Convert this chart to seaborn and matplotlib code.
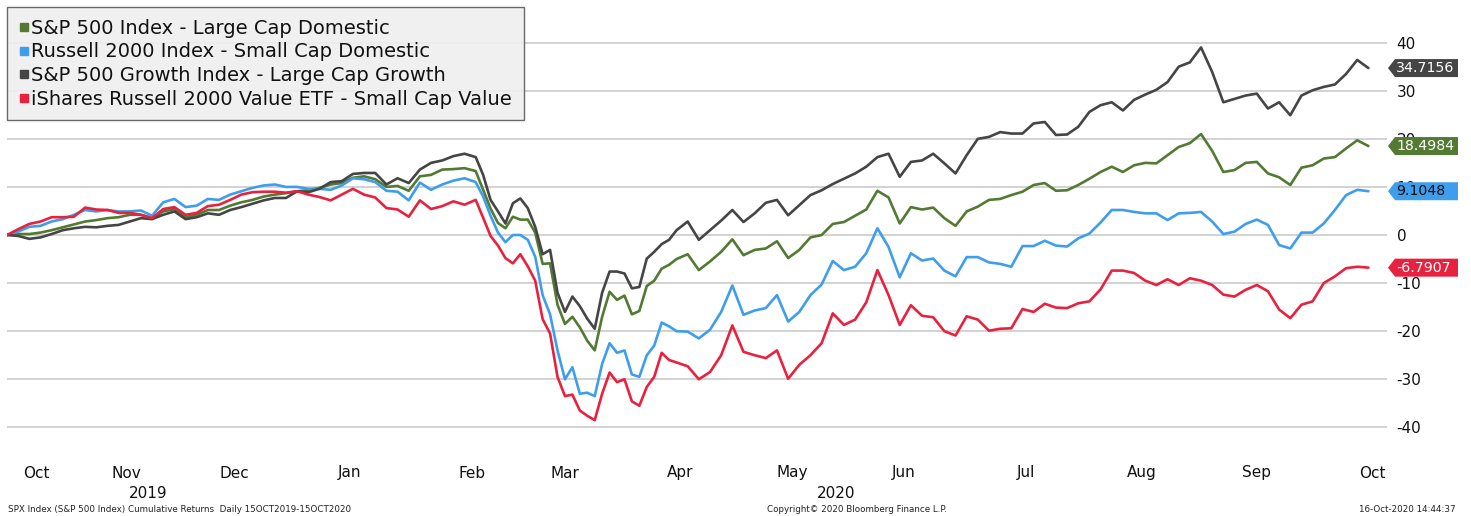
import numpy as np
import pandas as pd
import matplotlib
matplotlib.use("Agg")
import matplotlib.pyplot as plt
import matplotlib.transforms as mtransforms
from matplotlib.patches import Polygon
from matplotlib.lines import Line2D
import seaborn as sns

# ---------------- data ----------------
series_names = [
    "S&P 500 Index - Large Cap Domestic",
    "Russell 2000 Index - Small Cap Domestic",
    "S&P 500 Growth Index - Large Cap Growth",
    "iShares Russell 2000 Value ETF - Small Cap Value",
]
series_colors = ["#527a32", "#3f9eec", "#454545", "#e8213f"]
tag_text_colors = ["white", "#101010", "white", "white"]

start_date = "2019-10-15"
day_offsets = list(range(0, 127, 3)) + list(range(128, 179, 2)) + list(range(180, 367, 3))

sp500 = [0, 0.2, 0.2, 0.5, 1.0, 1.6, 2.2, 2.8, 3.1, 3.5, 3.7, 4.2, 4.2, 3.5, 4.9, 5.4, 3.7, 4.2, 5.2, 5.2,
         6.1, 6.8, 7.3, 8.0, 8.4, 8.7, 9.1, 9.3, 9.8, 10.5, 10.8, 11.9, 12.2, 11.6, 10.0, 10.2, 9.2, 12.2,
         12.5, 13.6, 13.7, 13.9, 13.3,
         9.4, 5.5, 2.5, 1.4, 3.8, 3.2, 3.2, 0.5, -6.0, -5.9, -14.5, -18.5, -17.0, -19.2, -22.0, -24.0,
         -17.0, -11.8, -13.5, -12.6, -16.5, -15.8, -10.6, -9.5, -7.0, -6.2,
         -5.0, -4.0, -7.3, -5.5, -3.5, -0.9, -4.2, -3.1, -2.8, -1.3, -4.8, -3.1, -0.5, 0.0, 2.3, 2.7, 4.0,
         5.3, 9.2, 7.8, 2.4, 5.8, 5.3, 5.7, 3.5, 1.9, 4.9, 5.9, 7.3, 7.5, 8.3, 9.0, 10.4, 10.8, 9.2, 9.3,
         10.4, 11.7, 13.1, 14.2, 13.1, 14.5, 15.0, 14.9, 16.6, 18.3, 19.1, 21.0, 17.5, 13.1, 13.5, 15.0,
         15.2, 12.8, 12.0, 10.4, 14.0, 14.5, 15.9, 16.2, 18.0, 19.7, 18.4984]

russell2000 = [0, 0.7, 1.7, 1.9, 2.8, 3.3, 4.2, 5.2, 4.9, 5.2, 4.9, 4.9, 5.1, 4.0, 6.8, 7.5, 5.8, 6.1, 7.5,
               7.3, 8.4, 9.1, 9.8, 10.3, 10.5, 10.0, 10.0, 9.6, 9.6, 9.4, 10.3, 11.8, 11.6, 11.0, 9.2, 9.0,
               7.2, 10.9, 9.4, 10.5, 11.3, 11.8, 11.0,
               8.0, 4.0, 0.5, -1.5, 0.0, 0.0, -1.0, -4.5, -12.5, -16.5, -24.0, -30.0, -27.5, -33.0, -32.8,
               -33.5, -26.8, -22.5, -24.5, -24.0, -29.0, -29.5, -25.0, -23.0, -18.2, -19.0,
               -20.0, -20.1, -21.5, -19.7, -16.0, -10.5, -16.6, -15.7, -15.2, -12.5, -18.0, -16.0, -12.5,
               -10.3, -5.4, -7.3, -6.6, -3.8, 1.4, -2.5, -8.8, -3.8, -5.3, -4.9, -7.4, -8.6, -4.6, -4.6,
               -5.7, -6.0, -6.6, -2.3, -2.3, -1.2, -2.2, -2.4, -0.7, 0.3, 2.6, 5.2, 5.2, 4.8, 4.5, 4.5,
               3.1, 4.5, 4.6, 4.8, 2.8, 0.2, 0.7, 2.3, 3.2, 2.1, -2.1, -2.8, 0.5, 0.5, 2.4, 5.2, 8.3, 9.4,
               9.1048]

sp500_growth = [0, -0.2, -0.8, -0.5, 0.2, 1.0, 1.4, 1.7, 1.6, 1.9, 2.1, 2.8, 3.5, 3.3, 4.2, 4.9, 3.3, 3.7,
                4.5, 4.2, 5.2, 5.8, 6.5, 7.2, 7.7, 7.7, 9.1, 8.9, 9.6, 11.0, 11.2, 12.7, 12.9, 12.9, 10.5,
                11.8, 10.8, 13.6, 15.0, 15.5, 16.4, 16.9, 16.2,
                12.5, 7.3, 4.9, 2.4, 6.6, 7.6, 5.6, 1.7, -4.0, -3.1, -12.0, -16.0, -12.8, -14.8, -17.4,
                -19.5, -12.0, -7.6, -7.6, -8.0, -11.1, -10.8, -4.9, -3.5, -1.9, -1.0,
                1.0, 2.8, -1.0, 1.0, 3.0, 5.2, 2.7, 4.5, 6.7, 7.3, 4.1, 6.2, 8.3, 9.3, 10.6, 11.7, 12.8,
                14.2, 16.2, 16.9, 12.1, 15.2, 15.5, 16.9, 14.9, 12.8, 16.6, 20.0, 20.4, 21.4, 21.1, 21.1,
                23.2, 23.5, 20.8, 20.9, 22.5, 25.6, 27.0, 27.6, 25.9, 28.1, 29.2, 30.2, 31.8, 35.0, 35.9,
                39.0, 33.9, 27.6, 28.3, 29.0, 29.4, 26.3, 27.6, 24.9, 29.0, 30.1, 30.8, 31.3, 33.5, 36.4,
                34.7156]

iwn_value = [0, 1.2, 2.3, 2.8, 3.7, 3.7, 3.8, 5.7, 5.3, 5.2, 4.6, 4.6, 4.2, 3.5, 5.4, 5.8, 4.2, 4.6, 6.0,
             6.3, 7.3, 8.4, 8.9, 9.0, 9.0, 8.8, 9.1, 8.4, 7.9, 7.2, 8.4, 9.6, 8.4, 7.8, 5.6, 5.3, 3.8, 7.2,
             5.4, 6.0, 7.0, 6.3, 7.3,
             3.6, -0.2, -2.2, -4.8, -5.9, -4.0, -6.5, -9.5, -17.5, -20.5, -29.5, -33.5, -33.2, -36.5,
             -37.6, -38.5, -33.0, -28.6, -30.6, -30.0, -34.6, -35.5, -31.6, -29.5, -24.5, -26.0,
             -26.5, -27.3, -30.0, -28.5, -25.0, -18.8, -24.3, -25.0, -25.6, -24.0, -29.9, -27.0, -25.0,
             -22.5, -16.3, -18.7, -17.6, -14.0, -7.3, -12.5, -18.7, -14.6, -16.8, -17.1, -20.0, -20.9,
             -16.9, -17.6, -19.9, -19.5, -19.4, -15.4, -16.0, -14.3, -15.1, -15.2, -14.2, -13.8, -11.3,
             -7.4, -7.4, -7.9, -9.5, -10.4, -9.2, -10.4, -9.0, -9.5, -10.4, -12.4, -12.8, -11.4, -10.4,
             -11.7, -15.5, -17.3, -14.5, -13.8, -10.0, -8.6, -6.9, -6.6, -6.7907]

month_labels = ["Oct", "Nov", "Dec", "Jan", "Feb", "Mar", "Apr", "May", "Jun", "Jul", "Aug", "Sep", "Oct"]
month_label_dates = ["2019-10-23", "2019-11-16", "2019-12-15", "2020-01-15", "2020-02-17", "2020-03-13",
                     "2020-04-13", "2020-05-13", "2020-06-12", "2020-07-15", "2020-08-15", "2020-09-15",
                     "2020-10-16"]
year_labels = ["2019", "2020"]
year_label_dates = ["2019-11-22", "2020-05-25"]
y_ticks = [-40, -30, -20, -10, 0, 10, 20, 30, 40]

footer_left = "SPX Index (S&P 500 Index) Cumulative Returns  Daily 15OCT2019-15OCT2020"
footer_mid = "Copyright\u00a9 2020 Bloomberg Finance L.P."
footer_right = "16-Oct-2020 14:44:37"

# ---------------- frame ----------------
dates = pd.Timestamp(start_date) + pd.to_timedelta(day_offsets, unit="D")
all_values = [sp500, russell2000, sp500_growth, iwn_value]
df = pd.concat(
    [pd.DataFrame({"date": dates, "value": vals, "series": name})
     for name, vals in zip(series_names, all_values)],
    ignore_index=True,
)

sns.set_theme(style="white")
plt.rcParams["font.family"] = ["DejaVu Sans"]

W, H = 1471, 516
fig = plt.figure(figsize=(W / 100, H / 100), dpi=100)
fig.patch.set_facecolor("white")

ax_left, ax_right, ax_top, ax_bottom = 7, 1387, 5, 445
ax = fig.add_axes([ax_left / W, 1 - ax_bottom / H, (ax_right - ax_left) / W, (ax_bottom - ax_top) / H])
ax.set_facecolor("white")

px_per_unit = (427.0 - 42.3) / 80.0
zero_px = 235.0
ax.set_ylim((zero_px - ax_bottom) / px_per_unit, (zero_px - ax_top) / px_per_unit)
x0 = pd.Timestamp(start_date)
ax.set_xlim(x0, x0 + pd.Timedelta(days=371))

sns.lineplot(data=df, x="date", y="value", hue="series", hue_order=series_names,
             palette=dict(zip(series_names, series_colors)), linewidth=1.9,
             estimator=None, sort=False, legend=False, ax=ax)

ax.set_yticks(y_ticks)
ax.set_yticklabels([str(t) for t in y_ticks])
ax.yaxis.tick_right()
ax.tick_params(axis="y", length=0, pad=7, labelsize=11, labelcolor="#111111")
ax.grid(axis="y", color="#cfcfcf", linewidth=1.3)
ax.grid(axis="x", visible=False)
ax.set_xticks([])
ax.set_xlabel("")
ax.set_ylabel("")
for s in ax.spines.values():
    s.set_visible(False)

# month and year labels
bt = mtransforms.blended_transform_factory(ax.transData, fig.transFigure)
for lab, d in zip(month_labels, month_label_dates):
    ax.text(pd.Timestamp(d), 1 - 473 / H, lab, transform=bt, ha="center", va="center",
            fontsize=11, color="#111111", clip_on=False)
for lab, d in zip(year_labels, year_label_dates):
    ax.text(pd.Timestamp(d), 1 - 493 / H, lab, transform=bt, ha="center", va="center",
            fontsize=11, color="#111111", clip_on=False)

# footer
fig.text(8 / W, 1 - 509 / H, footer_left, fontsize=6.3, ha="left", va="center", color="#222222")
fig.text(857 / W, 1 - 509 / H, footer_mid, fontsize=6.3, ha="center", va="center", color="#222222")
fig.text(1456 / W, 1 - 509 / H, footer_right, fontsize=6.3, ha="right", va="center", color="#222222")

# last value tags
tb = mtransforms.blended_transform_factory(ax.transAxes, ax.transData)
aw = ax_right - ax_left
half_h = 9.0 / px_per_unit
for vals, col, tcol in zip(all_values, series_colors, tag_text_colors):
    v = vals[-1]
    xl = (1388 - ax_left) / aw
    xb = (1395 - ax_left) / aw
    xr = (1458 - ax_left) / aw
    poly = Polygon([(xl, v), (xb, v + half_h), (xr, v + half_h), (xr, v - half_h), (xb, v - half_h)],
                   closed=True, transform=tb, facecolor=col, edgecolor="none", clip_on=False, zorder=10)
    ax.add_patch(poly)
    ax.text((1396 - ax_left) / aw, v, f"{v:.4f}", transform=tb, ha="left", va="center",
            fontsize=10.2, color=tcol, clip_on=False, zorder=11)

# legend
handles = [Line2D([], [], marker="s", linestyle="None", color=c, markersize=6) for c in series_colors]
leg = ax.legend(handles, series_names, loc="upper left",
                bbox_to_anchor=(7 / W, 1 - 7 / H), bbox_transform=fig.transFigure,
                frameon=True, fancybox=False, framealpha=0.88, facecolor="#efefef", edgecolor="#555555",
                fontsize=14, handlelength=0.5, handletextpad=0.15, labelspacing=0.24,
                borderpad=0.6, borderaxespad=0, markerscale=1.0)
leg.get_frame().set_linewidth(1.0)
for t in leg.get_texts():
    t.set_color("#111111")

fig.savefig("out.png", dpi=100, facecolor="white")
